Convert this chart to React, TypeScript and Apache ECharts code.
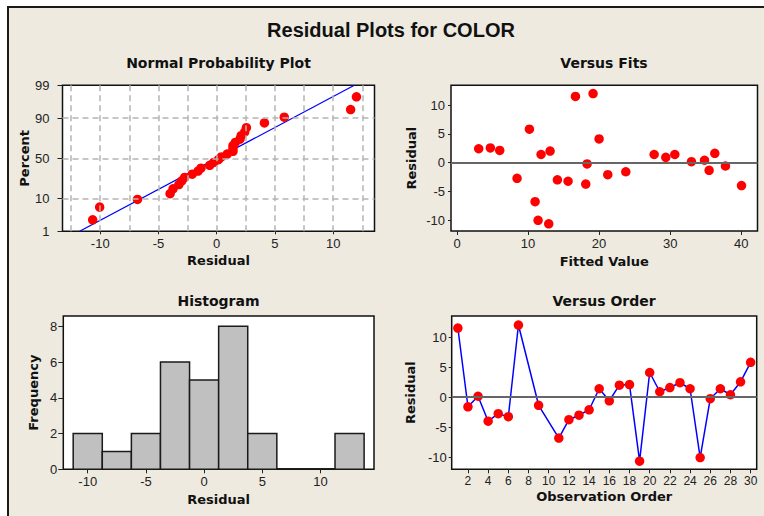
import React, { useEffect, useRef } from 'react';
import * as echarts from 'echarts';

// ---------- data ----------
const observationOrder = [1, 2, 3, 4, 5, 6, 7, 9, 11, 12, 13, 14, 15, 16, 17, 18, 19, 20, 21, 22, 23, 24, 25, 26, 27, 28, 29, 30];
const residuals = [11.5, -1.6, 0.15, -4.0, -2.75, -3.25, 12.0, -1.35, -6.8, -3.75, -3.0, -2.1, 1.4, -0.6, 2.0, 2.1, -10.65, 4.1, 0.9, 1.6, 2.4, 1.4, -10.05, -0.25, 1.4, 0.4, 2.55, 5.8];
const fittedValues = [16.67, 23.76, 33.0, 40.05, 8.45, 15.63, 19.15, 35.49, 10.99, 18.12, 14.13, 21.22, 27.75, 37.79, 13.1, 6.01, 12.91, 20.0, 29.39, 36.29, 3.05, 30.66, 11.41, 18.31, 11.83, 34.84, 4.69, 10.19];
// percent (median rank) of each sorted residual on the normal probability plot
const normalPercents = [2.5, 6.0, 9.5, 13.0, 16.5, 20.1, 23.6, 27.1, 30.6, 34.2, 37.7, 41.2, 44.7, 48.2, 51.8, 55.3, 58.8, 62.3, 65.8, 69.4, 72.9, 76.4, 79.9, 83.5, 87.0, 90.5, 94.0, 97.5];
const fitLineResidual = [-11.77, 11.82];
const fitLinePercent = [1, 99];
const percentTicks = [1, 10, 50, 90, 99];
const percentGridLines = [10, 50, 90];
const normalGridX = [-12.5, -10, -7.5, -5, -2.5, 0, 2.5, 5, 7.5, 10, 12.5];
const residualTicks = [-10, -5, 0, 5, 10];
const fittedTicks = [0, 10, 20, 30, 40];
const histBinCenters = [-10, -7.5, -5, -2.5, 0, 2.5, 5, 7.5, 10, 12.5];
const histCounts = [2, 1, 2, 6, 5, 8, 2, 0, 0, 2];
const frequencyTicks = [0, 2, 4, 6, 8];
const orderTicks = [2, 4, 6, 8, 10, 12, 14, 16, 18, 20, 22, 24, 26, 28, 30];

// inverse standard normal CDF (Acklam) for the probability axis
function probit(p: number): number {
  const a = [-3.969683028665376e1, 2.209460984245205e2, -2.759285104469687e2, 1.38357751867269e2, -3.066479806614716e1, 2.506628277459239];
  const b = [-5.447609879822406e1, 1.615858368580409e2, -1.556989798598866e2, 6.680131188771972e1, -1.328068155288572e1];
  const c = [-7.784894002430293e-3, -3.223964580411365e-1, -2.400758277161838, -2.549732539343734, 4.374664141464968, 2.938163982698783];
  const d = [7.784695709041462e-3, 3.224671290700398e-1, 2.445134137142996, 3.754408661907416];
  const pl = 0.02425;
  if (p < pl) {
    const q = Math.sqrt(-2 * Math.log(p));
    return (((((c[0] * q + c[1]) * q + c[2]) * q + c[3]) * q + c[4]) * q + c[5]) / ((((d[0] * q + d[1]) * q + d[2]) * q + d[3]) * q + 1);
  }
  if (p <= 1 - pl) {
    const q = p - 0.5;
    const r = q * q;
    return ((((((a[0] * r + a[1]) * r + a[2]) * r + a[3]) * r + a[4]) * r + a[5]) * q) / (((((b[0] * r + b[1]) * r + b[2]) * r + b[3]) * r + b[4]) * r + 1);
  }
  const q = Math.sqrt(-2 * Math.log(1 - p));
  return -(((((c[0] * q + c[1]) * q + c[2]) * q + c[3]) * q + c[4]) * q + c[5]) / ((((d[0] * q + d[1]) * q + d[2]) * q + d[3]) * q + 1);
}

const LABEL_FONT = 'Liberation Sans';
const NAME_FONT = 'DejaVu Sans';

export default function App() {
  const ref = useRef<HTMLDivElement>(null);

  useEffect(() => {
    document.body.style.margin = '0';
    if (!ref.current) return;
    const chart = echarts.init(ref.current, null, { renderer: 'svg' });

    const zTicks = percentTicks.map((p) => probit(p / 100));
    const zMin = zTicks[0];
    const zMax = zTicks[zTicks.length - 1];
    const sortedResiduals = [...residuals].sort((x, y) => x - y);
    const normalData = sortedResiduals.map((r, i) => [r, probit(normalPercents[i] / 100)]);
    const fitLineData = fitLineResidual.map((r, i) => [r, probit(fitLinePercent[i] / 100)]);
    const binWidth = histBinCenters[1] - histBinCenters[0];

    const axisBase = (extra: any) => ({
      type: 'value',
      nameLocation: 'middle',
      axisLine: { show: false, onZero: false },
      splitLine: { show: false },
      nameTextStyle: { fontFamily: NAME_FONT, fontWeight: 'bold', fontSize: 13, color: '#111' },
      ...extra,
    });
    const ticks = (values: number[], length: number) => ({
      show: true, length, customValues: values, lineStyle: { color: '#222', width: 1 },
    });
    const labels = (values: number[], margin: number, fontSize = 13, formatter?: any) => ({
      fontFamily: LABEL_FONT, fontSize, color: '#222', margin, customValues: values,
      ...(formatter ? { formatter } : {}),
    });

    const gridBase = { show: true, backgroundColor: '#ffffff', borderColor: '#111', borderWidth: 1.5 };

    const zeroLine = () => ({
      silent: true,
      symbol: ['none', 'none'],
      label: { show: false },
      lineStyle: { color: '#666', width: 2, type: 'solid' },
      emphasis: { disabled: true },
      data: [{ yAxis: 0 }],
    });

    const titleText = (text: string, x: number, y: number) => ({
      type: 'text', x, y, z: 10, silent: true,
      style: { text, fontFamily: NAME_FONT, fontWeight: 'bold', fontSize: 14, fill: '#111', textAlign: 'center', textVerticalAlign: 'middle' },
    });

    const option: any = {
      animation: false,
      backgroundColor: '#ffffff',
      graphic: [
        {
          type: 'rect',
          z: -10,
          silent: true,
          shape: { x: 8, y: 7, width: 820, height: 600 },
          style: { fill: '#EEEAE0', stroke: '#1a1a1a', lineWidth: 2 },
        },
        {
          type: 'text', x: 391, y: 30, z: 10, silent: true,
          style: { text: 'Residual Plots for COLOR', fontFamily: 'Liberation Sans', fontWeight: 'bold', fontSize: 20, fill: '#111', textAlign: 'center', textVerticalAlign: 'middle' },
        },
        titleText('Normal Probability Plot', 218.5, 63),
        titleText('Versus Fits', 604, 63),
        titleText('Histogram', 218.5, 301),
        titleText('Versus Order', 604, 301),
      ],
      grid: [
        { ...gridBase, left: 62.5, top: 85.3, width: 312, height: 146 },
        { ...gridBase, left: 451, top: 85.3, width: 306.5, height: 145.7 },
        { ...gridBase, left: 63.3, top: 316, width: 310.7, height: 153.3 },
        { ...gridBase, left: 451.7, top: 316, width: 305, height: 153.3 },
      ],
      xAxis: [
        axisBase({
          gridIndex: 0, min: -13.24, max: 13.55, name: 'Residual', nameGap: 23,
          axisTick: ticks(residualTicks, 3), axisLabel: labels(residualTicks, 6),
        }),
        axisBase({
          gridIndex: 1, min: -0.85, max: 42.3, name: 'Fitted Value', nameGap: 24,
          axisTick: ticks(fittedTicks, 4), axisLabel: labels(fittedTicks, 6),
        }),
        axisBase({
          gridIndex: 2, min: -12.1, max: 14.6, name: 'Residual', nameGap: 24,
          axisTick: ticks(residualTicks, 4), axisLabel: labels(residualTicks, 6),
        }),
        axisBase({
          gridIndex: 3, min: 0.39, max: 30.6, name: 'Observation Order', nameGap: 21,
          axisTick: ticks(orderTicks, 4), axisLabel: labels(orderTicks, 6, 12),
        }),
      ],
      yAxis: [
        axisBase({
          gridIndex: 0, min: zMin, max: zMax, name: 'Percent', nameGap: 28,
          axisTick: ticks(zTicks, 5),
          axisLabel: labels(zTicks, 13, 13, (v: number) => {
            let best = 0;
            zTicks.forEach((z, i) => { if (Math.abs(z - v) < Math.abs(zTicks[best] - v)) best = i; });
            return String(percentTicks[best]);
          }),
        }),
        axisBase({
          gridIndex: 1, min: -11.9, max: 13.43, name: 'Residual', nameGap: 33,
          axisTick: ticks(residualTicks, 3), axisLabel: labels(residualTicks, 6),
        }),
        axisBase({
          gridIndex: 2, min: 0, max: 8.58, name: 'Frequency', nameGap: 23,
          axisTick: ticks(frequencyTicks, 5), axisLabel: labels(frequencyTicks, 6),
        }),
        axisBase({
          gridIndex: 3, min: -12, max: 13.5, name: 'Residual', nameGap: 34.5,
          axisTick: ticks(residualTicks, 3), axisLabel: labels(residualTicks, 5),
        }),
      ],
      series: [
        {
          type: 'line',
          xAxisIndex: 0, yAxisIndex: 0,
          data: fitLineData,
          showSymbol: false,
          silent: true,
          z: 3,
          lineStyle: { color: '#0000FF', width: 1.3 },
          markLine: {
            silent: true,
            symbol: ['none', 'none'],
            label: { show: false },
            emphasis: { disabled: true },
            lineStyle: { color: '#B4B4B4', width: 1.5, type: [6, 4] },
            data: [
              ...normalGridX.map((v) => ({ xAxis: v })),
              ...percentGridLines.map((p) => ({ yAxis: probit(p / 100) })),
            ],
          },
        },
        {
          type: 'scatter',
          xAxisIndex: 0, yAxisIndex: 0,
          data: normalData,
          symbolSize: 9.5,
          z: 4,
          itemStyle: { color: '#FF0000', opacity: 1 },
        },
        {
          type: 'scatter',
          xAxisIndex: 1, yAxisIndex: 1,
          data: fittedValues.map((f, i) => [f, residuals[i]]),
          symbolSize: 9.5,
          z: 4,
          itemStyle: { color: '#FF0000', opacity: 1 },
          markLine: zeroLine(),
        },
        {
          type: 'custom',
          xAxisIndex: 2, yAxisIndex: 2,
          data: histBinCenters.map((c, i) => [c, histCounts[i]]),
          encode: { x: 0, y: 1 },
          silent: true,
          renderItem: (params: any, api: any) => {
            const c = api.value(0);
            const n = api.value(1);
            const p0 = api.coord([c - binWidth / 2, n]);
            const p1 = api.coord([c + binWidth / 2, 0]);
            if (n === 0) {
              return {
                type: 'line',
                shape: { x1: p0[0], y1: p1[1] - 0.5, x2: p1[0], y2: p1[1] - 0.5 },
                style: { stroke: '#1a1a1a', lineWidth: 1.5 },
              };
            }
            return {
              type: 'rect',
              shape: { x: p0[0], y: p0[1], width: p1[0] - p0[0], height: p1[1] - p0[1] },
              style: { fill: '#C0C0C0', stroke: '#1a1a1a', lineWidth: 1.5 },
            };
          },
        },
        {
          type: 'line',
          xAxisIndex: 3, yAxisIndex: 3,
          data: observationOrder.map((o, i) => [o, residuals[i]]),
          symbol: 'circle',
          symbolSize: 9.5,
          showAllSymbol: true,
          z: 4,
          itemStyle: { color: '#FF0000', opacity: 1 },
          lineStyle: { color: '#0000FF', width: 1.5 },
          markLine: zeroLine(),
        },
      ],
    };

    chart.setOption(option);
    return () => chart.dispose();
  }, []);

  return <div ref={ref} style={{ width: 764, height: 516 }} />;
}
